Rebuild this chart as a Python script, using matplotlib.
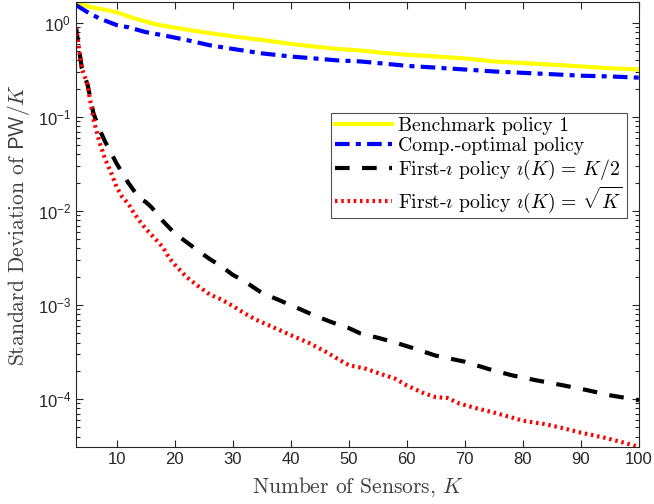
import matplotlib
matplotlib.use("Agg")
import matplotlib.pyplot as plt
import numpy as np
from matplotlib.ticker import LogLocator, NullFormatter

# values
k_bench = [3, 5, 7, 10, 13, 17, 21, 26, 30, 35, 40, 43, 48, 52, 56, 60, 65, 70, 75, 80, 85, 90, 95, 100]
sd_bench = [1.65, 1.5, 1.42, 1.3, 1.12, 0.96, 0.87, 0.78, 0.72, 0.66, 0.6, 0.57, 0.53, 0.51, 0.48,
            0.46, 0.44, 0.42, 0.39, 0.375, 0.36, 0.345, 0.33, 0.32]

k_comp = [3, 5, 7, 10, 12, 15, 18, 22, 26, 30, 35, 40, 44, 48, 52, 56, 60, 65, 70, 75, 80, 85, 90, 95, 100]
sd_comp = [1.55, 1.3, 1.12, 0.95, 0.9, 0.8, 0.74, 0.66, 0.58, 0.53, 0.475, 0.44, 0.42, 0.40, 0.39,
           0.37, 0.35, 0.335, 0.32, 0.305, 0.295, 0.285, 0.275, 0.27, 0.262]

k_half = [3, 4, 5, 6, 7, 8, 9, 10, 12, 14, 15, 16, 18, 20, 22, 24, 26, 28, 30, 32, 35, 38, 41, 44, 47,
          50, 52, 55, 58, 61, 65, 70, 74, 78, 82, 87, 91, 95, 100]
sd_half = [0.9, 0.33, 0.22, 0.11, 0.075, 0.055, 0.042, 0.032, 0.02, 0.0135, 0.0125, 0.011, 0.0078,
           0.0058, 0.0047, 0.0038, 0.0031, 0.0026, 0.0021, 0.0018, 0.00135, 0.00113, 0.00094, 0.00078,
           0.00066, 0.00057, 0.0005, 0.00045, 0.0004, 0.00035, 0.00029, 0.00025, 0.00021, 0.00018,
           0.00016, 0.00014, 0.000125, 0.00011, 0.0000977]

k_sqrt = [3, 4, 5, 6, 7, 8, 9, 10, 11, 12, 13, 14, 15, 16, 17, 18, 19, 20, 22, 24, 26, 28, 30, 32, 34,
          37, 40, 43, 46, 48, 50, 53, 55, 58, 60, 63, 65, 67, 69, 72, 75, 78, 80, 84, 87, 90, 94, 97, 100]
sd_sqrt = [0.9, 0.33, 0.22, 0.095, 0.055, 0.036, 0.026, 0.018, 0.014, 0.012, 0.0095, 0.0078, 0.0065,
           0.0056, 0.0048, 0.0041, 0.0032, 0.0027, 0.002, 0.0016, 0.0013, 0.00115, 0.00098, 0.00082,
           0.0007, 0.00058, 0.00048, 0.0004, 0.00032, 0.00027, 0.00023, 0.00021, 0.00019, 0.000165,
           0.00014, 0.000115, 0.000105, 0.000103, 0.00009, 0.00008, 0.000072, 0.000064, 0.000059,
           0.000054, 0.000049, 0.000044, 0.000039, 0.000035, 0.000031]

plt.rcParams['mathtext.fontset'] = 'cm'
plt.rcParams['font.family'] = 'Liberation Sans'

fig = plt.figure(figsize=(6.54, 5.04), dpi=100)
ax = fig.add_axes([0.1162, 0.1131, 0.8608, 0.8829])

ax.plot(k_bench, sd_bench, color='#FFFF00', lw=3, label='Benchmark policy 1')
ax.plot(k_comp, sd_comp, color='#0000FF', lw=3, ls=(0, (3.5, 1.5, 1.2, 1.5)),
        label='Comp.-optimal policy')
ax.plot(k_half, sd_half, color='black', lw=3, ls=(0, (3.5, 3)),
        label=r'First-$\imath$ policy $\imath(K)\,=\,K/2$')
ax.plot(k_sqrt, sd_sqrt, color='#FF0000', lw=3, ls=(0, (0.6, 0.9)),
        label=r'First-$\imath$ policy $\imath(K)\,=\,\sqrt{K}$')

ax.set_yscale('log')
ax.set_xlim(3, 100)
ax.set_ylim(3.1e-5, 1.67)
ax.set_xticks([10, 20, 30, 40, 50, 60, 70, 80, 90, 100])
ax.yaxis.set_major_locator(LogLocator(base=10, numticks=10))
ax.yaxis.set_minor_locator(LogLocator(base=10, subs=np.arange(2, 10), numticks=20))
ax.yaxis.set_minor_formatter(NullFormatter())
ax.tick_params(which='both', direction='in', top=True, right=True, colors='#262626',
               labelsize=12, width=0.8)
ax.tick_params(which='major', length=5)
ax.tick_params(which='minor', length=3)
for s in ax.spines.values():
    s.set_color('#262626')
    s.set_linewidth(0.8)

ax.set_xlabel(r'Number of Sensors, $K$', fontsize=15.5, color='#404040', labelpad=6,
              family='cmr10')
ax.set_ylabel(r'Standard Deviation of $\mathsf{PW}/K$', fontsize=15.5, color='#404040',
              labelpad=4, family='cmr10')

leg = ax.legend(loc='upper right', bbox_to_anchor=(0.9787, 0.7506),
                prop={'family': 'cmr10', 'size': 14.2}, frameon=True,
                fancybox=False, edgecolor='#262626', handlelength=2.9, handletextpad=0.3,
                borderpad=0.2, labelspacing=0.12, borderaxespad=0)
leg.get_frame().set_linewidth(0.8)

fig.savefig('out.png', dpi=100)
